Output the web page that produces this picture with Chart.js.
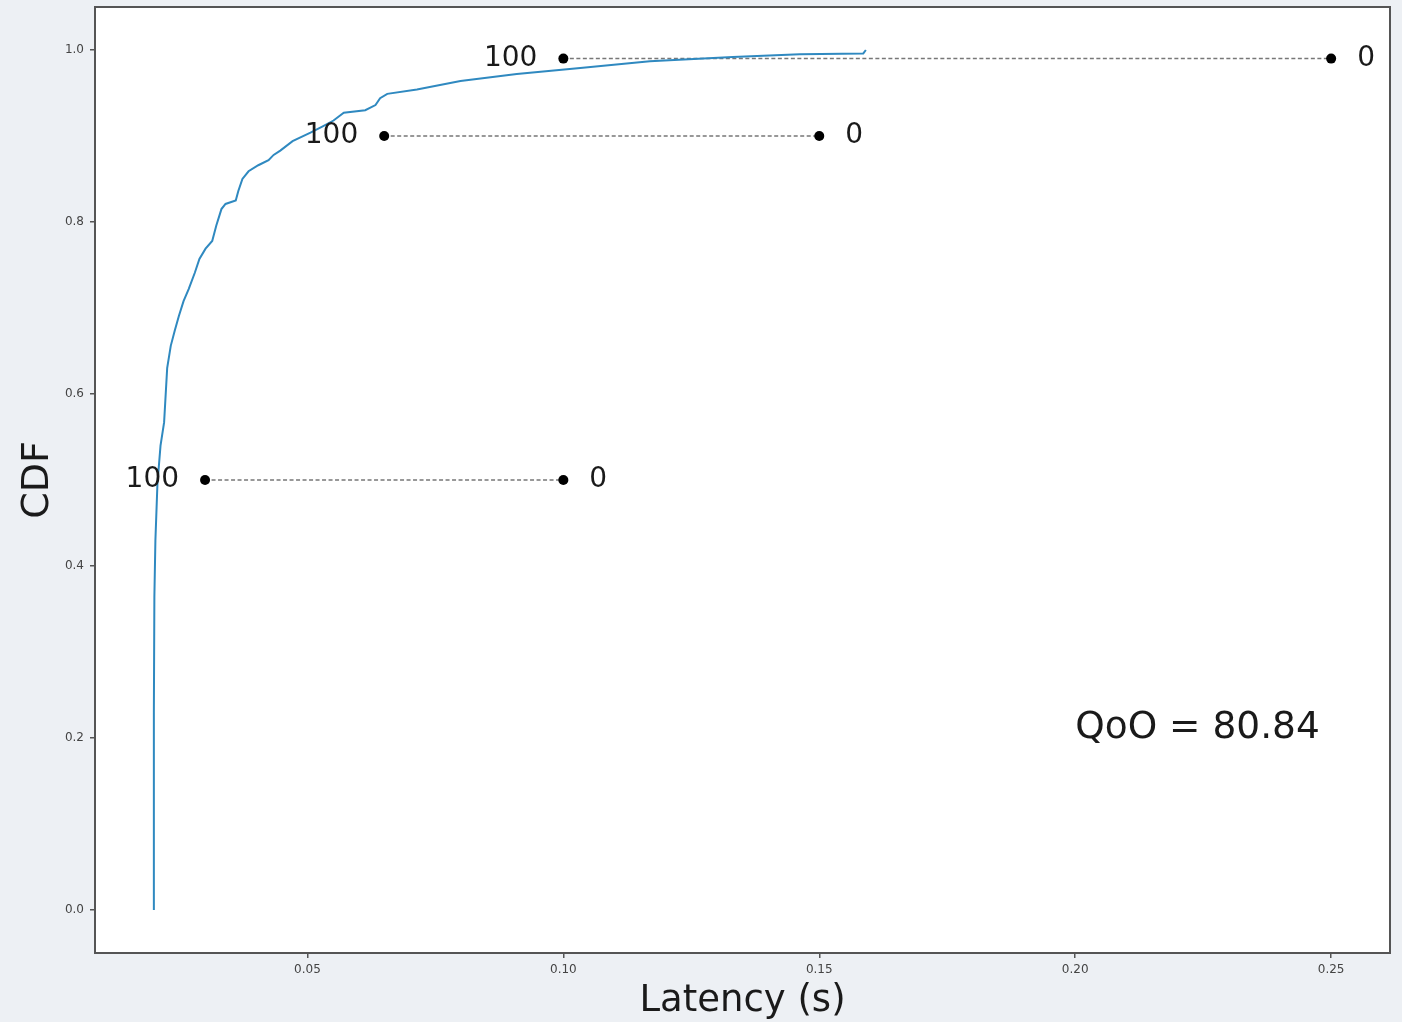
<!DOCTYPE html>
<html>
<head>
<meta charset="utf-8">
<script src="https://cdn.jsdelivr.net/npm/chart.js@4.4.0/dist/chart.umd.min.js"></script>
<style>
  html, body { margin: 0; padding: 0; background: #edf0f4; }
  #wrap { width: 1402px; height: 1022px; }
</style>
</head>
<body>
<div id="wrap"><canvas id="cdfChart" width="1402" height="1022"></canvas></div>
<script>
  const latency = [0.0200, 0.0200, 0.0201, 0.0203, 0.0207, 0.0213, 0.0220, 0.0226, 0.0233, 0.0241,
    0.0249, 0.0258, 0.0268, 0.0280, 0.0289, 0.0301, 0.0314, 0.0322, 0.0332, 0.0340,
    0.0360, 0.0365, 0.0373, 0.0385, 0.0404, 0.0424, 0.0434, 0.0447, 0.0471, 0.0506,
    0.0529, 0.0551, 0.0571, 0.0613, 0.0633, 0.0642, 0.0656, 0.0714, 0.0799, 0.0909,
    0.1033, 0.1169, 0.1331, 0.1462, 0.1586, 0.1591];
  const cdf = [0.000, 0.230, 0.364, 0.430, 0.496, 0.540, 0.567, 0.630, 0.656, 0.674,
    0.691, 0.708, 0.722, 0.741, 0.757, 0.769, 0.778, 0.796, 0.815, 0.821,
    0.825, 0.836, 0.850, 0.859, 0.866, 0.872, 0.878, 0.883, 0.894, 0.904,
    0.911, 0.918, 0.927, 0.930, 0.936, 0.944, 0.949, 0.954, 0.964, 0.972,
    0.979, 0.987, 0.992, 0.995, 0.996, 1.000];

  // QoO requirement markers (100 at good end, 0 at bad end)
  const markerY = [0.5, 0.9, 0.99];
  const markerStart = [0.03, 0.065, 0.10];
  const markerEnd = [0.10, 0.15, 0.25];
  const startLabels = ['100', '100', '100'];
  const endLabels = ['0', '0', '0'];

  const qooText = 'QoO = 80.84';
  const qooX = 0.2;
  const qooY = 0.2;

  const xTicks = [0.05, 0.10, 0.15, 0.20, 0.25];
  const xTickLabels = ['0.05', '0.10', '0.15', '0.20', '0.25'];
  const yTicks = [0.0, 0.2, 0.4, 0.6, 0.8, 1.0];
  const yTickLabels = ['0.0', '0.2', '0.4', '0.6', '0.8', '1.0'];

  const FONT = 'DejaVu Sans';

  const datasets = [{
    data: latency.map((x, i) => ({ x: x, y: cdf[i] })),
    showLine: true,
    borderColor: '#2f89c0',
    borderWidth: 2,
    pointRadius: 0,
    tension: 0
  }];
  markerY.forEach((y, i) => {
    datasets.push({
      data: [{ x: markerStart[i], y: y }, { x: markerEnd[i], y: y }],
      showLine: true,
      borderColor: '#777',
      borderWidth: 1.5,
      borderDash: [4, 2.5],
      pointRadius: 5,
      pointBackgroundColor: '#000',
      pointBorderColor: '#000',
      pointBorderWidth: 0
    });
  });

  const plotFrame = {
    id: 'plotFrame',
    beforeDraw(chart) {
      const a = chart.chartArea, ctx = chart.ctx;
      ctx.save();
      ctx.fillStyle = '#fff';
      ctx.fillRect(a.left, a.top, a.right - a.left, a.bottom - a.top);
      ctx.restore();
    },
    afterDraw(chart) {
      const a = chart.chartArea, ctx = chart.ctx;
      ctx.save();
      ctx.strokeStyle = '#555';
      ctx.lineWidth = 2;
      ctx.strokeRect(a.left, a.top, a.right - a.left, a.bottom - a.top);
      ctx.restore();
    }
  };

  const markerText = {
    id: 'markerText',
    afterDatasetsDraw(chart) {
      const ctx = chart.ctx, xs = chart.scales.x, ys = chart.scales.y;
      ctx.save();
      ctx.fillStyle = '#1a1a1a';
      ctx.font = '28px "' + FONT + '"';
      ctx.textBaseline = 'middle';
      markerY.forEach((y, i) => {
        const py = ys.getPixelForValue(y);
        ctx.textAlign = 'right';
        ctx.fillText(startLabels[i], xs.getPixelForValue(markerStart[i]) - 26, py);
        ctx.textAlign = 'left';
        ctx.fillText(endLabels[i], xs.getPixelForValue(markerEnd[i]) + 26, py);
      });
      ctx.font = '37.5px "' + FONT + '"';
      ctx.textAlign = 'left';
      ctx.textBaseline = 'alphabetic';
      ctx.fillText(qooText, xs.getPixelForValue(qooX), ys.getPixelForValue(qooY));
      ctx.restore();
    }
  };

  new Chart(document.getElementById('cdfChart'), {
    type: 'scatter',
    data: { datasets: datasets },
    options: {
      responsive: false,
      animation: false,
      layout: { padding: { top: 7, right: 12, left: 0, bottom: 0 } },
      plugins: { legend: { display: false }, tooltip: { enabled: false } },
      scales: {
        x: {
          type: 'linear',
          min: 0.0085,
          max: 0.2615,
          afterBuildTicks: s => { s.ticks = xTicks.map(v => ({ value: v })); },
          afterFit: s => { s.height = 69; s.paddingLeft = 0; s.paddingRight = 0; },
          ticks: {
            font: { family: FONT, size: 12 },
            color: '#444',
            padding: 5,
            maxRotation: 0,
            callback: (v) => xTickLabels[xTicks.indexOf(v)]
          },
          grid: { display: true, drawOnChartArea: false, drawTicks: true, tickLength: 5, color: '#555', lineWidth: 1.5 },
          border: { display: true, color: '#555', width: 2 },
          title: { display: true, text: 'Latency (s)', font: { family: FONT, size: 37, lineHeight: 1.1 }, color: '#1a1a1a', padding: { top: 0, bottom: 0 } }
        },
        y: {
          type: 'linear',
          min: -0.05,
          max: 1.05,
          afterBuildTicks: s => { s.ticks = yTicks.map(v => ({ value: v })); },
          afterFit: s => { s.width = 95; s.paddingTop = 0; s.paddingBottom = 0; },
          ticks: {
            font: { family: FONT, size: 12 },
            color: '#444',
            padding: 6,
            callback: (v) => yTickLabels[yTicks.indexOf(v)]
          },
          grid: { display: true, drawOnChartArea: false, drawTicks: true, tickLength: 5, color: '#555', lineWidth: 1.5 },
          border: { display: true, color: '#555', width: 2 },
          title: { display: true, text: 'CDF', font: { family: FONT, size: 38 }, color: '#1a1a1a', padding: { top: 15, bottom: 0 } }
        }
      }
    },
    plugins: [plotFrame, markerText]
  });
</script>
</body>
</html>
